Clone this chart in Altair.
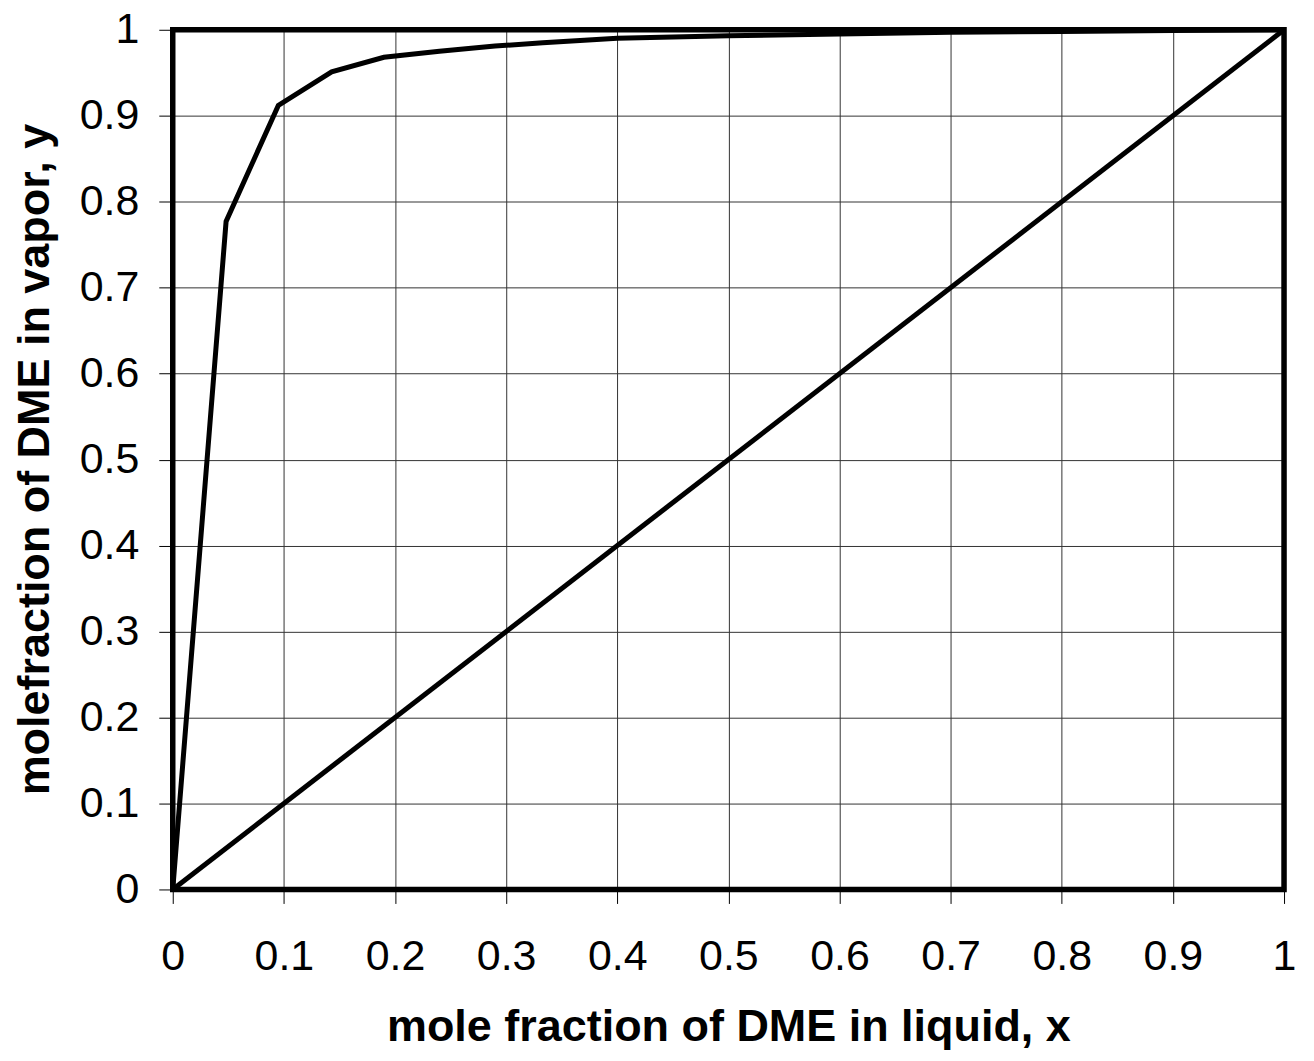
import altair as alt
import pandas as pd

# VLE curve (liquid x, vapor y)
curve_x = [0.0, 0.048, 0.095, 0.143, 0.19, 0.24, 0.29, 0.333, 0.4, 0.5, 0.6, 0.7, 0.8, 0.9, 1.0]
curve_y = [0.0, 0.777, 0.912, 0.951, 0.968, 0.975, 0.981, 0.985, 0.990, 0.993, 0.995, 0.997, 0.998, 0.999, 1.0]

# 45-degree reference line
diag_x = [0.0, 1.0]
diag_y = [0.0, 1.0]

ticks = [0, 0.1, 0.2, 0.3, 0.4, 0.5, 0.6, 0.7, 0.8, 0.9, 1]

curve_df = pd.DataFrame({"x": curve_x, "y": curve_y, "order": list(range(len(curve_x)))})
diag_df = pd.DataFrame({"x": diag_x, "y": diag_y, "order": [0, 1]})
frame_df = pd.DataFrame({"x": [0.0], "x2": [1.0], "y": [0.0], "y2": [1.0]})

FONT = "Liberation Sans"
W, H = 1113, 861

xscale = alt.Scale(domain=[0, 1], nice=False, zero=False)
yscale = alt.Scale(domain=[0, 1], nice=False, zero=False)

xaxis = alt.Axis(
    values=ticks, title="mole fraction of DME in liquid, x", format="~g",
    labelFont=FONT, labelFontSize=43, labelColor="black", labelPadding=32,
    tickColor="black", tickSize=14, tickWidth=1,
    grid=True, gridColor="#333", gridWidth=1,
    domain=False,
    titleFont=FONT, titleFontSize=45, titleFontWeight="bold", titleColor="black",
    titleBaseline="middle", titleY=137, titleAlign="center",
    labelFlush=False, labelOverlap=False,
)
yaxis = alt.Axis(
    values=ticks, title="molefraction of DME in vapor, y", format="~g",
    labelFont=FONT, labelFontSize=43, labelColor="black", labelPadding=20,
    tickColor="black", tickSize=14, tickWidth=1,
    grid=True, gridColor="#333", gridWidth=1,
    domain=False,
    titleFont=FONT, titleFontSize=45, titleFontWeight="bold", titleColor="black",
    titleAngle=270, titleBaseline="middle", titleAlign="center",
    titleX=-138, titleY=430,
    minExtent=165, maxExtent=165,
    labelFlush=False, labelOverlap=False,
)

base_curve = alt.Chart(curve_df).mark_line(color="black", strokeWidth=5).encode(
    x=alt.X("x:Q", scale=xscale, axis=xaxis),
    y=alt.Y("y:Q", scale=yscale, axis=yaxis),
    order="order:Q",
)
diag = alt.Chart(diag_df).mark_line(color="black", strokeWidth=5).encode(
    x=alt.X("x:Q", scale=xscale),
    y=alt.Y("y:Q", scale=yscale),
    order="order:Q",
)
frame = alt.Chart(frame_df).mark_rect(filled=False, stroke="black", strokeWidth=5.5).encode(
    x=alt.X("x:Q", scale=xscale),
    x2="x2:Q",
    y=alt.Y("y:Q", scale=yscale),
    y2="y2:Q",
)

chart = (
    alt.layer(base_curve, diag, frame)
    .properties(width=W, height=H, padding={"left": 0, "top": 0, "right": 10, "bottom": 0})
    .configure_view(stroke=None)
    .configure(background="white")
)

chart.save("out.html", embed_options={"renderer": "svg", "actions": False})
